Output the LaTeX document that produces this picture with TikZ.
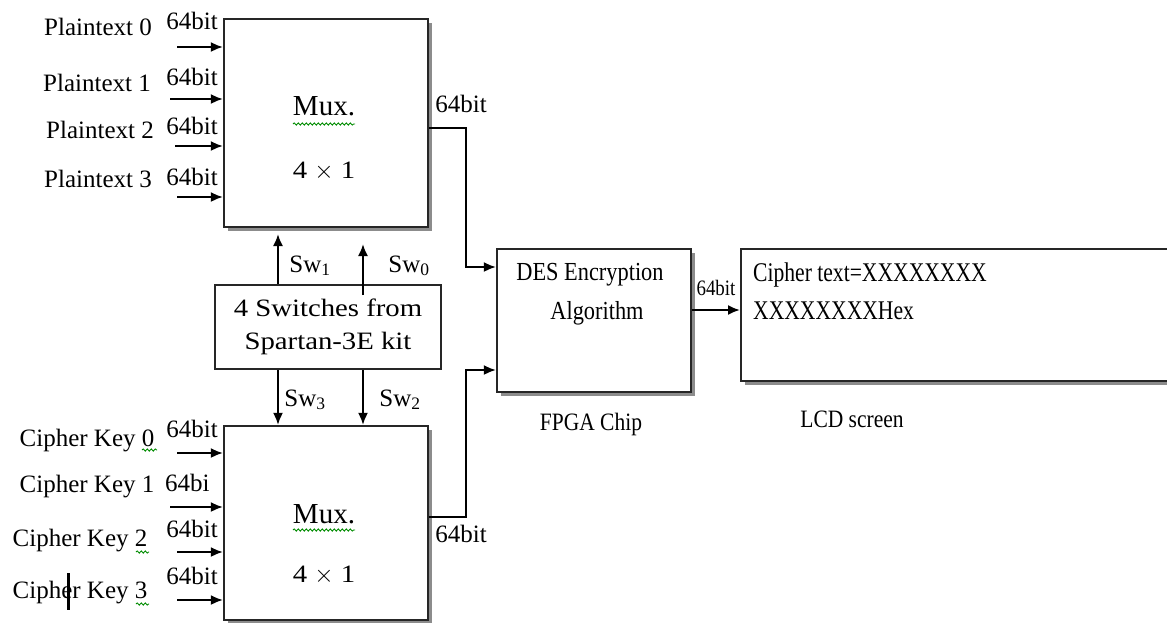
\documentclass[tikz,border=0pt]{standalone}
\usepackage{fontspec}
\setmainfont{Liberation Serif}
\newfontfamily\widef{Liberation Serif}[FakeStretch=1.15]
\newfontfamily\narrowf{Liberation Serif}[FakeStretch=0.86]
\newfontfamily\lcdf{Liberation Serif}[FakeStretch=0.8]
\usetikzlibrary{arrows.meta,decorations.pathmorphing,shadows}
\tikzset{
  blk/.style={draw=black!85, line width=2.2pt, fill=white, inner sep=0pt},
  shadowed/.style={blk, drop shadow={shadow xshift=4pt, shadow yshift=-4pt, fill=black!45, opacity=1}},
  lbl/.style={inner sep=0pt, text height=17pt, text depth=5pt, font=\fontsize{25}{30}\selectfont},
  arr/.style={line width=2pt, -{Latex[length=12pt,width=10pt]}},
  spell/.style={draw=green!55!black, line width=0.9pt, decorate, decoration={snake, amplitude=1.1pt, segment length=4pt}}
}
\begin{document}
\begin{tikzpicture}[x=1pt,y=-1pt]
\clip (0,0) rectangle (1167,622);
\fill[white] (0,0) rectangle (1167,622);

% blocks
\node[shadowed, minimum width=204pt, minimum height=208pt] (muxA) at (326,123) {};
\node[shadowed, minimum width=204pt, minimum height=194pt] (muxB) at (326,523) {};
\node[blk, minimum width=226pt, minimum height=84pt] (sw) at (328,327) {};
\node[shadowed, minimum width=194pt, minimum height=143pt] (des) at (594,320.5) {};
\node[shadowed, minimum width=440pt, minimum height=132pt, anchor=west] (lcd) at (740,315) {};

% mux texts
\node[lbl, text height=20pt, font=\fontsize{29}{34}\selectfont] (mA1) at (324,108) {Mux.};
\node[lbl, font=\widef\fontsize{25}{30}\selectfont] (mA2) at (324,172) {4 $\times$ 1};
\node[lbl, text height=20pt, font=\fontsize{29}{34}\selectfont] (mB1) at (324,516) {Mux.};
\node[lbl, font=\widef\fontsize{25}{30}\selectfont] (mB2) at (324,576) {4 $\times$ 1};
\draw[spell] (293,124) -- (355,124);
\draw[spell] (293,530) -- (355,530);

% switch texts
\node[lbl, font=\widef\fontsize{25}{30}\selectfont] (sw1) at (328,310) {4 Switches from};
\node[lbl, font=\widef\fontsize{25}{30}\selectfont] (sw2) at (328,343) {Spartan-3E kit};

% DES texts
\node[lbl, font=\narrowf\fontsize{26}{30}\selectfont] (d1) at (590,274) {DES Encryption};
\node[lbl, font=\narrowf\fontsize{26}{30}\selectfont] (d2) at (597,313) {Algorithm};

% LCD texts
\node[lbl, anchor=west, font=\lcdf\fontsize{27}{30}\selectfont] (l1) at (753,275) {Cipher text=XXXXXXXX};
\node[lbl, anchor=west, font=\lcdf\fontsize{27}{30}\selectfont] (l2) at (753,313) {XXXXXXXXHex};

% captions
\node[lbl, font=\narrowf\fontsize{25}{30}\selectfont] (fpga) at (591,424) {FPGA Chip};
\node[lbl, font=\narrowf\fontsize{25}{30}\selectfont] (lcdcap) at (852,421) {LCD screen};

% plaintext inputs
\foreach \i/\y/\xs/\ly/\lx/\by in {0/47/177/29/98/23, 1/99/170/85/97/79, 2/146/175/132/100/128, 3/197/177/181/98/179}{
  \coordinate (p\i) at (\xs,\y);
  \draw[arr] (p\i) -- (p\i -| muxA.west);
  \node[lbl] (pt\i) at (\lx,\ly) {Plaintext \i};
  \node[lbl] (pb\i) at (192,\by) {64bit};
}

% cipher key inputs
\foreach \i/\y/\xs/\ly/\lx in {0/453/177/440/87, 1/507/170/486/87, 2/552/177/540/80, 3/600/177/592/80}{
  \coordinate (k\i) at (\xs,\y);
  \draw[arr] (k\i) -- (k\i -| muxB.west);
  \node[lbl] (ck\i) at (\lx,\ly) {Cipher Key \i};
}
\node[lbl] (kb0) at (192,431) {64bit};
\node[lbl, anchor=west] (kb1) at (165,485) {64bi};
\node[lbl] (kb2) at (192,531) {64bit};
\node[lbl] (kb3) at (192,578) {64bit};
\draw[spell] (142,450) -- (157,450);
\draw[spell] (136,552) -- (149,552);
\draw[spell] (136,604) -- (149,604);
\draw[line width=3pt] (68,573) -- (68,610);

% mux outputs to DES
\coordinate (jA) at (466,128);
\coordinate (jB) at (466,517);
\draw[arr] (muxA.east |- jA) -- (jA) |- (des.west |- 0,267);
\draw[arr] (muxB.east |- jB) -- (jB) |- (des.west |- 0,370);
\node[lbl] (oA) at (461,106) {64bit};
\node[lbl] (oB) at (461,536) {64bit};

% switch arrows
\coordinate (s1) at (278,0);
\coordinate (s0) at (363,295);
\draw[arr] (sw.north -| s1) -- (s1 |- 0,234);
\draw[arr] (s0) -- (363,244);
\draw[arr] (sw.south -| s1) -- (muxB.north -| s1);
\draw[arr] (sw.south -| s0) -- (muxB.north -| s0);
\node[lbl] (lsw1) at (310,266) {Sw\textsubscript{1}};
\node[lbl] (lsw0) at (409,266) {Sw\textsubscript{0}};
\node[lbl] (lsw3) at (305,400) {Sw\textsubscript{3}};
\node[lbl] (lsw2) at (400,400) {Sw\textsubscript{2}};

% DES to LCD
\coordinate (dl) at (0,310);
\draw[arr] (des.east |- dl) -- (lcd.west |- dl);
\node[lbl, text height=15pt, text depth=4pt, font=\narrowf\fontsize{22}{26}\selectfont] (ob) at (716,290) {64bit};
\end{tikzpicture}
\end{document}
